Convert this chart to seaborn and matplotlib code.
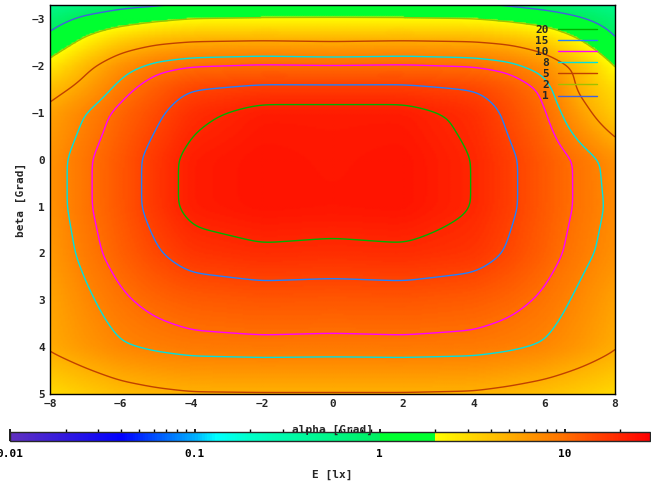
import numpy as np
import matplotlib
matplotlib.use("Agg")
import matplotlib.pyplot as plt
import seaborn as sns
from matplotlib.colors import LinearSegmentedColormap, LogNorm
from matplotlib.lines import Line2D

sns.set_theme(style="white")
plt.rcParams['font.family'] = ['DejaVu Sans Mono']
plt.rcParams['font.weight'] = 'bold'

# illuminance table E [lx]
alpha_pts = [-8, -7, -6, -5, -4, -2, 0, 2, 4, 5, 6, 7, 8]
beta_pts = [-3.3, -3.0, -2.5, -2.0, -1.5, -1.0, 0.0, 1.0, 2.0, 3.0, 4.0, 5.0]
E_table = [
    [0.5, 0.65, 0.85, 0.95, 1.1, 1.25, 1.3, 1.25, 1.1, 0.95, 0.8, 0.65, 0.5],
    [0.75, 1.2, 1.5, 1.8, 2.05, 2.1, 2.1, 2.1, 2.05, 1.8, 1.5, 1.1, 0.75],
    [1.3, 2.4, 3.8, 4.8, 5.3, 5.5, 5.3, 5.5, 5.3, 4.8, 3.8, 2.2, 1.1],
    [2.5, 4.5, 7.0, 9.0, 10.0, 10.5, 10.3, 10.5, 10.0, 9.0, 7.0, 4.5, 2.0],
    [4.2, 6.0, 9.0, 12.0, 15.0, 16.5, 16.5, 16.5, 15.0, 12.5, 9.5, 4.6, 3.0],
    [5.8, 8.0, 11.0, 14.0, 18.5, 22.3, 22.3, 22.3, 18.5, 14.0, 10.5, 6.0, 3.5],
    [6.8, 9.5, 12.5, 17.0, 22.0, 24.0, 23.0, 24.0, 20.0, 16.0, 12.3, 9.5, 7.0],
    [6.8, 9.5, 12.5, 17.0, 22.0, 24.0, 23.5, 24.0, 20.0, 16.0, 12.3, 9.5, 7.4],
    [6.3, 8.8, 11.5, 14.5, 17.5, 19.0, 18.5, 19.0, 17.5, 14.5, 11.5, 8.8, 7.0],
    [5.6, 7.5, 9.5, 11.0, 12.0, 12.7, 12.5, 12.7, 12.0, 11.0, 9.5, 7.5, 5.8],
    [5.3, 6.5, 7.8, 8.5, 9.0, 9.2, 9.1, 9.2, 9.0, 8.5, 7.8, 6.5, 5.2],
    [3.0, 3.6, 4.2, 4.6, 4.85, 4.9, 4.9, 4.9, 4.8, 4.5, 4.1, 3.6, 3.1],
]
levels = [1, 2, 5, 8, 10, 15, 20]
level_colors = ['#4060e0', '#a0c000', '#c04000', '#00e0e0', '#ff00ff', '#2080ff', '#00b000']

xf = np.linspace(-8, 8, 321)
yf = np.linspace(-3.3, 5, 250)
logT = np.log(np.array(E_table))
rows = np.array([np.interp(xf, alpha_pts, r) for r in logT])
F = np.array([np.interp(yf, beta_pts, rows[:, j]) for j in range(len(xf))]).T
def smooth(A, sig, axis):
    k = np.exp(-0.5 * (np.arange(-3 * sig, 3 * sig + 1) / sig) ** 2); k /= k.sum()
    n = 3 * sig
    A = np.moveaxis(A, axis, -1)
    P = np.concatenate([2 * A[..., :1] - A[..., n:0:-1], A,
                        2 * A[..., -1:] - A[..., -2:-n - 2:-1]], axis=-1)
    out = np.apply_along_axis(lambda v: np.convolve(v, k, mode='valid'), -1, P)
    return np.moveaxis(out, -1, axis)
F = smooth(smooth(F, 5, 1), 4, 0)
Z = np.exp(F)

vmin, vmax = 0.01, 29.0
L = np.log10(vmax / vmin)
def p(v):
    return np.log10(v / vmin) / L
stops = [(0.01, '#6030c0'), (0.04, '#0000ff'), (0.1, '#00b0ff'), (0.13, '#00ffff'),
         (0.2, '#00ffc8'), (1.0, '#00f060'), (1.001, '#00ff30'), (2.0, '#00ff30'),
         (2.01, '#ffff00'), (5.0, '#ffb000'), (10.0, '#ff7000'), (29.0, '#ff0000')]
cmap = LinearSegmentedColormap.from_list('g', [(p(v), c) for v, c in stops])
norm = LogNorm(vmin=vmin, vmax=vmax)

fig = plt.figure(figsize=(6.51, 4.83), dpi=100)
ax = fig.add_axes([50/651, 1-394/483, 565/651, 389/483])
ax.pcolormesh(xf, yf, Z, cmap=cmap, norm=norm, shading='gouraud')
for lv, c in zip(levels, level_colors):
    ax.contour(xf, yf, Z, levels=[lv], colors=[c], linewidths=1)
ax.set_xlim(-8, 8)
ax.set_ylim(5, -3.3)
ax.set_xticks(range(-8, 9, 2))
ax.set_yticks(range(-3, 6))
ax.grid(True, color='#a0a0a0', linestyle=(0, (3, 3)), linewidth=0.8)
ax.tick_params(labelsize=8, direction='in', length=4)
for s in ax.spines.values():
    s.set_color('black'); s.set_linewidth(1)
ax.set_ylabel('beta [Grad]', fontsize=8, fontweight='bold')

handles = [Line2D([], [], color=c, lw=1) for c in level_colors[::-1]]
ax.legend(handles, [str(v) for v in levels[::-1]], loc='upper right',
          bbox_to_anchor=(0.985, 0.975), frameon=False, markerfirst=False,
          fontsize=8, handlelength=3.5, labelspacing=0.1, handletextpad=0.8)

cax = fig.add_axes([10/651, 1-441/483, 640/651, 9/483])
cb = fig.colorbar(plt.cm.ScalarMappable(norm=norm, cmap=cmap), cax=cax, orientation='horizontal')
cb.set_ticks([0.01, 0.1, 1, 10])
cb.set_ticklabels(['0.01', '0.1', '1', '10'])
cax.tick_params(which='both', direction='in', colors='black', labelsize=8, length=9, pad=6)
cb.outline.set_linewidth(1)
fig.text(332/651, 1-475/483, 'E [lx]', ha='center', va='center', fontsize=8, fontweight='bold')
fig.text(332/651, 1-430/483, 'alpha [Grad]', ha='center', va='center', fontsize=8, fontweight='bold')
fig.savefig('out.png', dpi=100)
